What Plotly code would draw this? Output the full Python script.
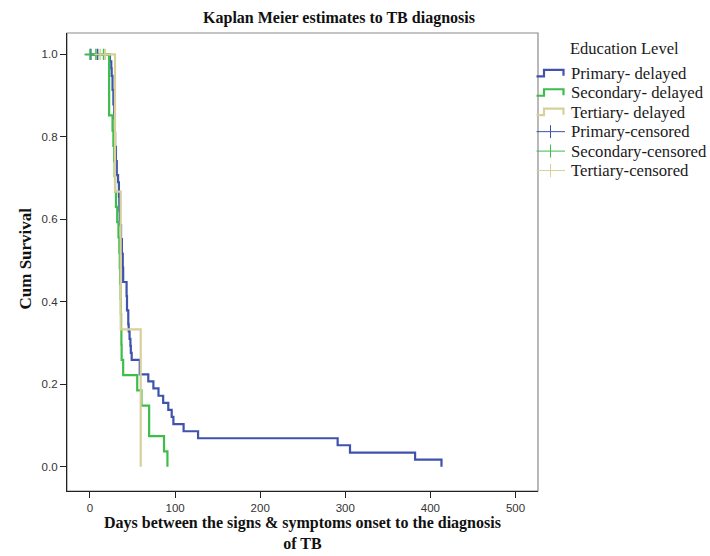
import plotly.graph_objects as go

# ---- data ----
primary_t = [0, 23.5, 25, 25.5, 26.5, 27.5, 28.5, 29, 29.5, 30.5, 31.5, 33, 34, 34.5, 35,
             36.5, 37.5, 38.5, 39, 43, 43.5, 45, 45.5, 46.5, 47.5, 48, 49, 58.5, 68.5,
             74.5, 80.5, 86, 92, 96, 98, 110, 127, 291, 305.5, 382, 413]
primary_s = [1.0, 0.983, 0.966, 0.948, 0.914, 0.879, 0.845, 0.810, 0.776, 0.741, 0.707,
             0.690, 0.655, 0.621, 0.586, 0.552, 0.517, 0.483, 0.448, 0.414, 0.379, 0.345,
             0.328, 0.310, 0.293, 0.276, 0.259, 0.224, 0.207, 0.190, 0.172, 0.155, 0.138,
             0.121, 0.103, 0.086, 0.069, 0.052, 0.034, 0.017, 0.0]

secondary_t = [0, 22.5, 26.5, 27.5, 28.5, 29, 29.5, 30.5, 32, 33.5, 34.5, 35, 35.5, 36,
               36.3, 36.6, 36.9, 37.2, 39, 55.5, 60.5, 69.5, 87, 91]
secondary_s = [1.0, 0.852, 0.815, 0.778, 0.741, 0.704, 0.667, 0.630, 0.593, 0.556, 0.519,
               0.481, 0.444, 0.407, 0.370, 0.333, 0.296, 0.259, 0.222, 0.185, 0.148,
               0.074, 0.037, 0.0]

tertiary_t = [0, 29.4, 36.1, 59.6]
tertiary_s = [1.0, 0.667, 0.333, 0.0]

primary_cens = [1, 9]
secondary_cens = [0, 7, 16]
tertiary_cens = [12, 18]

x_ticks = [0, 100, 200, 300, 400, 500]
y_ticks = [0.0, 0.2, 0.4, 0.6, 0.8, 1.0]

legend_title = "Education Level"
legend_names = ["Primary- delayed", "Secondary- delayed", "Tertiary- delayed",
                "Primary-censored", "Secondary-censored", "Tertiary-censored"]

BLUE = "#3f53ad"
GREEN = "#3dbd4a"
TAN = "#d8cf9a"
COLORS = [BLUE, GREEN, TAN]
SERIF = "Liberation Serif"
SANS = "Liberation Sans"

# plot-area geometry (pixels) used for paper-coordinate conversion of decorations
L, R, T, B = 67, 538, 33, 491
W, H = R - L, B - T


def px(x):
    return (x - L) / W


def py(y):
    return (B - y) / H


fig = go.Figure()

series = [(primary_t, primary_s), (secondary_t, secondary_s), (tertiary_t, tertiary_s)]
for name, (t, s), c in zip(legend_names[:3], series, COLORS):
    fig.add_trace(go.Scatter(x=t, y=s, mode="lines", name=name, showlegend=False,
                             line=dict(color=c, width=2.2, shape="hv")))

for name, cx, c in zip(legend_names[3:], [primary_cens, secondary_cens, tertiary_cens], COLORS):
    fig.add_trace(go.Scatter(x=cx, y=[1.0] * len(cx), mode="markers", name=name,
                             showlegend=False,
                             marker=dict(symbol="cross-thin", size=8,
                                         line=dict(color=c, width=1.5))))

# ---- manual legend (SPSS style) ----
shapes = [dict(type="rect", xref="paper", yref="paper", x0=0, x1=1, y0=0, y1=1,
               line=dict(color="#8a8a8a", width=1.2), layer="below")]
annotations = [dict(text=legend_title, xref="paper", yref="paper",
                    x=px(568), y=py(48.3), xanchor="left", yanchor="middle",
                    showarrow=False, font=dict(family=SERIF, size=16.5, color="#1a1a1a"))]
y0, dy = 73.3, 19.45
for i, name in enumerate(legend_names):
    yc = y0 + i * dy
    c = COLORS[i % 3]
    annotations.append(dict(text=name, xref="paper", yref="paper", x=px(568.5), y=py(yc),
                            xanchor="left", yanchor="middle", showarrow=False,
                            font=dict(family=SERIF, size=16.7, color="#1a1a1a")))
    if i < 3:
        path = (f"M {px(536.5)},{py(yc + 3)} L {px(544)},{py(yc + 3)} "
                f"L {px(544)},{py(yc - 3.5)} L {px(563.5)},{py(yc - 3.5)} "
                f"L {px(563.5)},{py(yc + 2.5)}")
        shapes.append(dict(type="path", xref="paper", yref="paper", path=path,
                           line=dict(color=c, width=2.2)))
    else:
        shapes.append(dict(type="line", xref="paper", yref="paper", x0=px(536.5),
                           x1=px(565), y0=py(yc), y1=py(yc), line=dict(color=c, width=1)))
        shapes.append(dict(type="line", xref="paper", yref="paper", x0=px(550.5),
                           x1=px(550.5), y0=py(yc - 6.5), y1=py(yc + 6.5),
                           line=dict(color=c, width=1)))

# axis titles
annotations += [
    dict(text="<b>Days between the signs & symptoms onset to the diagnosis<br>of TB</b>",
         xref="paper", yref="paper", x=px(302.5), y=py(533), xanchor="center",
         yanchor="middle", showarrow=False,
         font=dict(family=SERIF, size=16, color="#111")),
    dict(text="<b>Cum Survival</b>", xref="paper", yref="paper", x=px(25), y=py(258.5),
         xanchor="center", yanchor="middle", textangle=-90, showarrow=False,
         font=dict(family=SERIF, size=17, color="#111")),
]

fig.update_layout(
    width=710, height=556,
    margin=dict(l=L, r=710 - R, t=T, b=556 - B, autoexpand=False),
    paper_bgcolor="white", plot_bgcolor="white",
    title=dict(text="<b>Kaplan Meier estimates to TB diagnosis</b>",
               x=339 / 710, xanchor="center", y=1 - 17 / 556, yanchor="middle",
               font=dict(family=SERIF, size=16, color="#111")),
    showlegend=False,
    shapes=shapes,
    annotations=annotations,
)

fig.update_xaxes(range=[-27, 526.4], tickvals=x_ticks, ticks="outside", ticklen=6,
                 tickcolor="#222", showgrid=False, zeroline=False, showline=True,
                 linecolor="#222", linewidth=1.2, automargin=False,
                 tickfont=dict(family=SANS, size=11.5, color="#333"))
fig.update_yaxes(range=[-0.059, 1.052], tickvals=y_ticks, tickformat=".1f",
                 ticks="outside", ticklen=6, tickcolor="#222", showgrid=False,
                 zeroline=False, showline=True, linecolor="#222", linewidth=1.2,
                 automargin=False,
                 tickfont=dict(family=SANS, size=11.5, color="#333"))

fig.write_html("out.html")
